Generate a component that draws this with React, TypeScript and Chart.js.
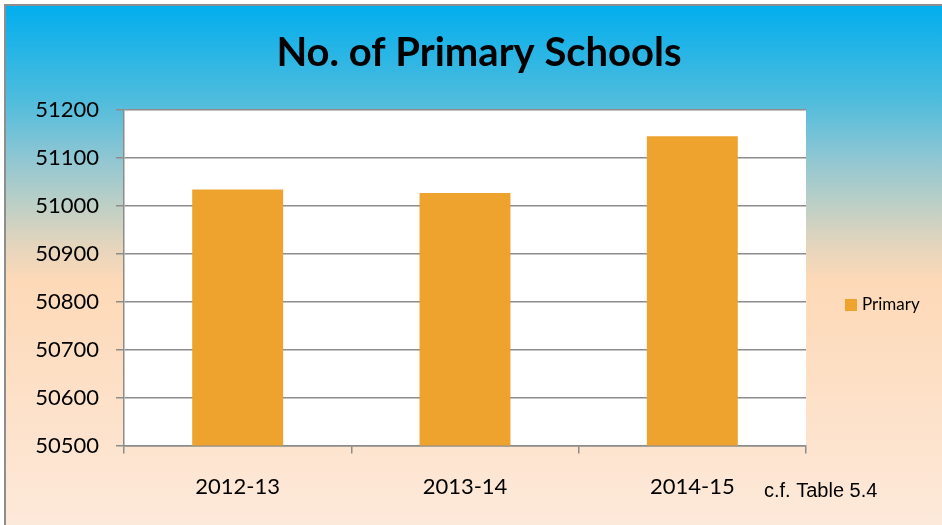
import React, { useEffect, useRef } from "react";
import { Chart, registerables } from "chart.js";

Chart.register(...registerables);

const categories = ["2012-13", "2013-14", "2014-15"];
const primaryValues = [51034, 51027, 51145];
const seriesLabel = "Primary";
const titleText = "No. of Primary Schools";
const noteText = "c.f. Table 5.4";
const yMin = 50500;
const yMax = 51200;
const yStep = 100;

const BAR_COLOR = "#EFA32F";

const decorPlugin = {
  id: "decor",
  beforeDraw(chart: any) {
    const { ctx, width, height } = chart;
    ctx.save();
    const g = ctx.createLinearGradient(0, 6, 0, height);
    g.addColorStop(0, "#02AEEE");
    g.addColorStop(0.18, "#4EBCDD");
    g.addColorStop(0.3, "#93C7D2");
    g.addColorStop(0.38, "#BBCFC6");
    g.addColorStop(0.46, "#E4D5BD");
    g.addColorStop(0.53, "#FDD9B7");
    g.addColorStop(1, "#FDE9DA");
    ctx.fillStyle = g;
    ctx.fillRect(6, 6, width - 6, height - 6);
    // outer border (top & left)
    ctx.fillStyle = "#8E8E8E";
    ctx.fillRect(4, 4, width - 4, 2);
    ctx.fillRect(4, 4, 2, height - 4);
    // plot area white
    const a = chart.chartArea;
    ctx.fillStyle = "#FFFFFF";
    ctx.fillRect(a.left, a.top, a.right - a.left, a.bottom - a.top);
    ctx.restore();
  },
  afterDraw(chart: any) {
    const { ctx } = chart;
    ctx.save();
    // title
    ctx.fillStyle = "#000000";
    ctx.font = "bold 40px Lato";
    ctx.textAlign = "center";
    ctx.textBaseline = "alphabetic";
    ctx.fillText(titleText, 479, 66);
    // legend
    const ds = chart.data.datasets[0];
    ctx.fillStyle = ds.backgroundColor;
    ctx.fillRect(845, 299, 12, 12);
    ctx.fillStyle = "#000000";
    ctx.font = "17px Lato";
    ctx.textAlign = "left";
    ctx.textBaseline = "middle";
    ctx.fillText(ds.label, 862, 305);
    // note
    ctx.font = "20px 'Liberation Sans Narrow', 'Liberation Sans', Arial";
    ctx.textAlign = "left";
    ctx.textBaseline = "middle";
    ctx.fillStyle = "#000000";
    ctx.fillText(noteText, 764, 491);
    ctx.restore();
  },
};

export default function App() {
  const ref = useRef<HTMLCanvasElement | null>(null);
  useEffect(() => {
    if (!ref.current) return;
    const chart = new Chart(ref.current, {
      type: "bar",
      data: {
        labels: categories,
        datasets: [
          {
            label: seriesLabel,
            data: primaryValues,
            backgroundColor: BAR_COLOR,
            borderWidth: 0,
            barPercentage: 0.4,
            categoryPercentage: 1,
          },
        ],
      },
      options: {
        animation: false,
        responsive: false,
        maintainAspectRatio: false,
        layout: { padding: { left: 0, right: 136, top: 110, bottom: 5 } },
        plugins: {
          legend: { display: false },
          title: { display: false },
          tooltip: { enabled: false },
        },
        scales: {
          x: {
            grid: {
              offset: true,
              drawOnChartArea: false,
              drawTicks: true,
              tickLength: 8,
              color: "#8C8C8C",
              lineWidth: 1.5,
            },
            border: { display: true, color: "#8C8C8C", width: 1.5 },
            ticks: {
              color: "#000000",
              font: { family: "Lato", size: 22 },
              padding: 20,
              maxRotation: 0,
            },
          },
          y: {
            min: yMin,
            max: yMax,
            afterFit(scale: any) {
              scale.width = 124;
            },
            ticks: {
              stepSize: yStep,
              color: "#000000",
              font: { family: "Lato", size: 22 },
              padding: 17,
              callback: (v: any) => String(v),
            },
            grid: {
              color: "#8C8C8C",
              lineWidth: 1.5,
              tickLength: 8,
            },
            border: { display: true, color: "#8C8C8C", width: 1.5 },
          },
        },
      },
      plugins: [decorPlugin],
    });
    return () => chart.destroy();
  }, []);
  return (
    <div style={{ position: "fixed", left: 0, top: 0, width: 942, height: 525 }}>
      <canvas ref={ref} width={942} height={525} style={{ width: 942, height: 525, display: "block" }} />
    </div>
  );
}
